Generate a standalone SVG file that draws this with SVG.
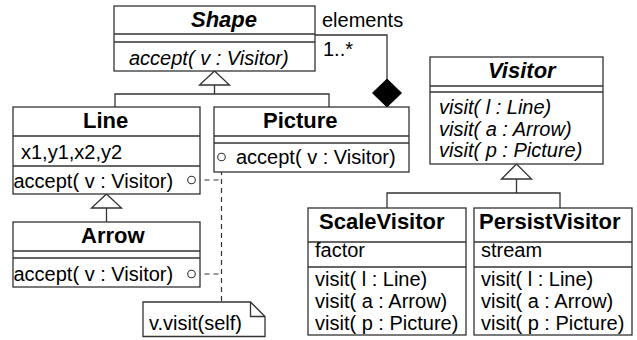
<svg xmlns="http://www.w3.org/2000/svg" width="637" height="340" viewBox="0 0 637 340">
<style>
.box{fill:#fff;stroke:#333;stroke-width:1.3}
.sep{stroke:#333;stroke-width:1.3}
.ln{fill:none;stroke:#333;stroke-width:1.3}
.tri{fill:#fff;stroke:#333;stroke-width:1.3}
.dash{fill:none;stroke:#333;stroke-width:1.2;stroke-dasharray:5,4}
.circ{fill:#fff;stroke:#333;stroke-width:1.1}
.t{font-family:"Liberation Sans",Arial,sans-serif;font-size:20px;fill:#000}
.i{font-style:italic}
.b{font-family:"Liberation Sans",Arial,sans-serif;font-size:22px;font-weight:bold;fill:#000}
</style>
<rect width="637" height="340" fill="#fff"/>
<g id="connectors">
  <polyline class="ln" points="315,35 387,35 387,79"/>
  <path d="M387,79 L401.5,93 L387,107 L372.5,93 Z" fill="#000" stroke="#000"/>
  <polyline class="ln" points="214.5,85 214.5,94"/>
  <polyline class="ln" points="115,107 115,94 329,94 329,107"/>
  <path class="tri" d="M214.5,71 L229.5,85 L199.5,85 Z"/>
  <polyline class="ln" points="106.5,208 106.5,222"/>
  <path class="tri" d="M106.5,194 L121.5,208 L91.5,208 Z"/>
  <polyline class="ln" points="516.5,179 516.5,193"/>
  <polyline class="ln" points="387,208 387,193 560,193 560,208"/>
  <path class="tri" d="M516.5,164 L531.5,179 L501.5,179 Z"/>
  <polyline class="dash" points="195.5,180 221.5,180"/>
  <polyline class="dash" points="195.5,274 221.5,274"/>
  <polyline class="dash" points="221.5,161 221.5,302"/>
  <text class="t" x="322" y="27">elements</text>
  <text class="t" x="323" y="56">1..*</text>
</g>
<g id="Shape">
  <rect class="box" x="114" y="6" width="201" height="65"/>
  <line class="sep" x1="114" y1="34" x2="315" y2="34"/>
  <line class="sep" x1="114" y1="42" x2="315" y2="42"/>
  <text class="b i" x="191" y="27">Shape</text>
  <text class="t i" x="129" y="65">accept( v : Visitor)</text>
</g>
<g id="Line">
  <rect class="box" x="13" y="107" width="187" height="87"/>
  <line class="sep" x1="13" y1="136" x2="200" y2="136"/>
  <line class="sep" x1="13" y1="166" x2="200" y2="166"/>
  <text class="b" x="83" y="128">Line</text>
  <text class="t" x="21" y="159">x1,y1,x2,y2</text>
  <text class="t" x="13.5" y="188">accept( v : Visitor)</text>
  <circle class="circ" cx="191.5" cy="180" r="3.8"/>
</g>
<g id="Picture">
  <rect class="box" x="214" y="107" width="195" height="65"/>
  <line class="sep" x1="214" y1="136" x2="409" y2="136"/>
  <line class="sep" x1="214" y1="143" x2="409" y2="143"/>
  <text class="b" x="263" y="128">Picture</text>
  <text class="t" x="236" y="164">accept( v : Visitor)</text>
  <circle class="circ" cx="221.5" cy="157" r="3.8"/>
</g>
<g id="Arrow">
  <rect class="box" x="13" y="222" width="187" height="65"/>
  <line class="sep" x1="13" y1="251" x2="200" y2="251"/>
  <line class="sep" x1="13" y1="258" x2="200" y2="258"/>
  <text class="b" x="81" y="243">Arrow</text>
  <text class="t" x="13.5" y="281">accept( v : Visitor)</text>
  <circle class="circ" cx="191.5" cy="274" r="3.8"/>
</g>
<g id="Note">
  <path class="box" d="M143,302 H250.5 L265,316.5 V336.5 H143 Z"/>
  <polyline class="ln" points="250.5,302 250.5,316.5 265,316.5"/>
  <text class="t" x="149" y="330">v.visit(self)</text>
</g>
<g id="Visitor">
  <rect class="box" x="430" y="57" width="173" height="107"/>
  <line class="sep" x1="430" y1="86" x2="603" y2="86"/>
  <line class="sep" x1="430" y1="92" x2="603" y2="92"/>
  <text class="b i" x="488" y="78">Visitor</text>
  <text class="t i" x="439" y="114">visit( l : Line)</text>
  <text class="t i" x="439" y="135.7">visit( a : Arrow)</text>
  <text class="t i" x="439" y="157.3">visit( p : Picture)</text>
</g>
<g id="ScaleVisitor">
  <rect class="box" x="308" y="208" width="158" height="127"/>
  <line class="sep" x1="308" y1="242" x2="466" y2="242"/>
  <line class="sep" x1="308" y1="267" x2="466" y2="267"/>
  <text class="b" x="319" y="229">ScaleVisitor</text>
  <text class="t" x="315" y="257">factor</text>
  <text class="t" x="315" y="286">visit( l : Line)</text>
  <text class="t" x="315" y="308">visit( a : Arrow)</text>
  <text class="t" x="315" y="330">visit( p : Picture)</text>
</g>
<g id="PersistVisitor">
  <rect class="box" x="474" y="208" width="158" height="127"/>
  <line class="sep" x1="474" y1="242" x2="632" y2="242"/>
  <line class="sep" x1="474" y1="267" x2="632" y2="267"/>
  <text class="b" x="479" y="229">PersistVisitor</text>
  <text class="t" x="481" y="257">stream</text>
  <text class="t" x="481" y="286">visit( l : Line)</text>
  <text class="t" x="481" y="308">visit( a : Arrow)</text>
  <text class="t" x="481" y="330">visit( p : Picture)</text>
</g>
</svg>
